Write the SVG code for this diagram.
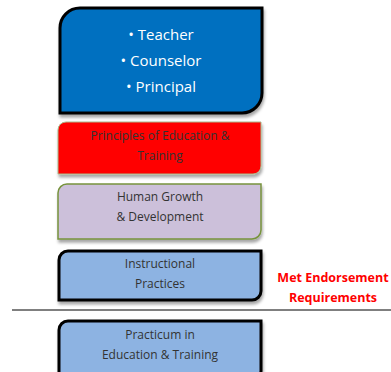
<svg xmlns="http://www.w3.org/2000/svg" width="391" height="372" viewBox="0 0 391 372">
<style>
.t{font-family:"Open Sans","Liberation Sans",sans-serif;text-anchor:middle}
.w{fill:#fff;font-size:15px}
.d{fill:#333;font-size:12px}
.r{fill:#FF0000;font-size:12.5px;font-weight:bold}
</style>
<defs>
<filter id="sh" x="-10%" y="-10%" width="130%" height="140%">
<feDropShadow dx="1" dy="3" stdDeviation="1.5" flood-color="#000" flood-opacity="0.35"/>
</filter>
</defs>
<rect width="391" height="372" fill="#fff"/>
<g id="roles">
<path d="M80,8 H262 V93 A20,20 0 0 1 242,113 H60 V28 A20,20 0 0 1 80,8 Z" fill="#0070C0" stroke="#000" stroke-width="3" filter="url(#sh)"/>
<text class="t w" x="161" y="40">• Teacher</text>
<text class="t w" x="161" y="66">• Counselor</text>
<text class="t w" x="161" y="92">• Principal</text>
</g>
<g id="principles">
<path d="M66,122 H261 V166 A8,8 0 0 1 253,174 H58 V130 A8,8 0 0 1 66,122 Z" fill="#FF0000" stroke="#A9B98A" stroke-width="1" filter="url(#sh)"/>
<text class="t d" x="160" y="140">Principles of Education &amp;</text>
<text class="t d" x="160" y="160">Training</text>
</g>
<g id="human">
<path d="M67,184 H261 V230 A9,9 0 0 1 252,239 H58 V193 A9,9 0 0 1 67,184 Z" fill="#CCC0DA" stroke="#77933C" stroke-width="1.5" filter="url(#sh)"/>
<text class="t d" x="160" y="201">Human Growth</text>
<text class="t d" x="160" y="221">&amp; Development</text>
</g>
<g id="instructional">
<path d="M68,251 H261 V291 A9,9 0 0 1 252,300 H59 V260 A9,9 0 0 1 68,251 Z" fill="#8DB3E2" stroke="#000" stroke-width="3" filter="url(#sh)"/>
<text class="t d" x="160" y="268">Instructional</text>
<text class="t d" x="160" y="288">Practices</text>
</g>
<g id="practicum">
<path d="M68,321 H261 V371 A9,9 0 0 1 252,380 H59 V330 A9,9 0 0 1 68,321 Z" fill="#8DB3E2" stroke="#000" stroke-width="3" filter="url(#sh)"/>
<text class="t d" x="160" y="339">Practicum in</text>
<text class="t d" x="160" y="359">Education &amp; Training</text>
</g>
<g id="connectors">
<line x1="12" y1="310" x2="391" y2="310" stroke="#000" stroke-width="1"/>
</g>
<g id="label">
<text class="t r" x="333" y="282">Met Endorsement</text>
<text class="t r" x="333" y="302">Requirements</text>
</g>
</svg>
